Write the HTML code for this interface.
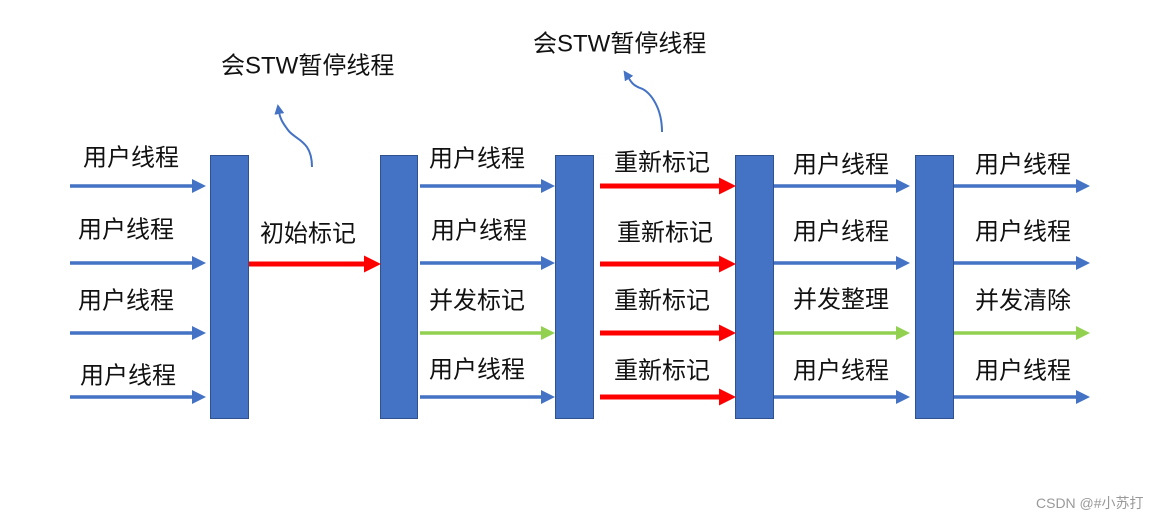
<!DOCTYPE html>
<html><head><meta charset="utf-8"><style>
html,body{margin:0;padding:0;background:#fff;width:1169px;height:521px;overflow:hidden}
text{font-family:"Liberation Sans","Noto Sans CJK SC",sans-serif;fill:#111}
</style></head><body>
<svg width="1169" height="521" viewBox="0 0 1169 521" xmlns="http://www.w3.org/2000/svg">
<defs>
<marker id="hb" markerWidth="4" markerHeight="4" refX="0" refY="2" orient="auto" markerUnits="strokeWidth"><path d="M0,0 L4,2 L0,4 z" fill="#4472c4"/></marker>
<marker id="hr" markerWidth="3.4" markerHeight="3.4" refX="0" refY="1.7" orient="auto" markerUnits="strokeWidth"><path d="M0,0 L3.4,1.7 L0,3.4 z" fill="#ff0000"/></marker>
<marker id="hg" markerWidth="4" markerHeight="4" refX="0" refY="2" orient="auto" markerUnits="strokeWidth"><path d="M0,0 L4,2 L0,4 z" fill="#92d050"/></marker>
<marker id="hc" markerWidth="5" markerHeight="5" refX="1" refY="2.5" orient="auto" markerUnits="strokeWidth"><path d="M0,0 L5,2.5 L0,5 z" fill="#4472c4"/></marker>
</defs>
<g fill="#4472c4" stroke="#2f528f" stroke-width="1">
<rect x="210.5" y="155.5" width="38" height="263"/>
<rect x="380.5" y="155.5" width="37" height="263"/>
<rect x="555.5" y="155.5" width="38" height="263"/>
<rect x="735.5" y="155.5" width="38" height="263"/>
<rect x="915.5" y="155.5" width="38" height="263"/>
</g>
<g stroke-width="3.5" fill="none">
<line x1="70" y1="186" x2="192" y2="186" stroke="#4472c4" marker-end="url(#hb)"/>
<line x1="70" y1="263" x2="192" y2="263" stroke="#4472c4" marker-end="url(#hb)"/>
<line x1="70" y1="333" x2="192" y2="333" stroke="#4472c4" marker-end="url(#hb)"/>
<line x1="70" y1="397" x2="192" y2="397" stroke="#4472c4" marker-end="url(#hb)"/>
<line x1="420" y1="186" x2="541" y2="186" stroke="#4472c4" marker-end="url(#hb)"/>
<line x1="420" y1="263" x2="541" y2="263" stroke="#4472c4" marker-end="url(#hb)"/>
<line x1="420" y1="333" x2="541" y2="333" stroke="#92d050" marker-end="url(#hg)"/>
<line x1="420" y1="397" x2="541" y2="397" stroke="#4472c4" marker-end="url(#hb)"/>
<line x1="774" y1="186" x2="896" y2="186" stroke="#4472c4" marker-end="url(#hb)"/>
<line x1="774" y1="263" x2="896" y2="263" stroke="#4472c4" marker-end="url(#hb)"/>
<line x1="774" y1="333" x2="896" y2="333" stroke="#92d050" marker-end="url(#hg)"/>
<line x1="774" y1="397" x2="896" y2="397" stroke="#4472c4" marker-end="url(#hb)"/>
<line x1="954" y1="186" x2="1076" y2="186" stroke="#4472c4" marker-end="url(#hb)"/>
<line x1="954" y1="263" x2="1076" y2="263" stroke="#4472c4" marker-end="url(#hb)"/>
<line x1="954" y1="333" x2="1076" y2="333" stroke="#92d050" marker-end="url(#hg)"/>
<line x1="954" y1="397" x2="1076" y2="397" stroke="#4472c4" marker-end="url(#hb)"/>
</g>
<g stroke="#ff0000" stroke-width="5" fill="none">
<line x1="249" y1="264" x2="364" y2="264" marker-end="url(#hr)"/>
<line x1="600" y1="186" x2="719" y2="186" marker-end="url(#hr)"/>
<line x1="600" y1="264" x2="719" y2="264" marker-end="url(#hr)"/>
<line x1="600" y1="333" x2="719" y2="333" marker-end="url(#hr)"/>
<line x1="600" y1="397" x2="719" y2="397" marker-end="url(#hr)"/>
</g>
<g stroke="#4472c4" stroke-width="2" fill="none">
<path d="M312,167 C312,140 295,140 288,130 C282,122 280,118 279,112" marker-end="url(#hc)"/>
<path d="M662,132 C662,105 648,90 640,88 C632,85 630,80 628,77" marker-end="url(#hc)"/>
</g>
<g font-size="24" dominant-baseline="middle">
<text x="221" y="67">会STW暂停线程</text>
<text x="533" y="45">会STW暂停线程</text>
<text x="83" y="159">用户线程</text>
<text x="78" y="231">用户线程</text>
<text x="78" y="302">用户线程</text>
<text x="80" y="377">用户线程</text>
<text x="260" y="235">初始标记</text>
<text x="429" y="160">用户线程</text>
<text x="431" y="232">用户线程</text>
<text x="429" y="302">并发标记</text>
<text x="429" y="371">用户线程</text>
<text x="614" y="164">重新标记</text>
<text x="617" y="234">重新标记</text>
<text x="614" y="302">重新标记</text>
<text x="614" y="372">重新标记</text>
<text x="793" y="166">用户线程</text>
<text x="793" y="233">用户线程</text>
<text x="793" y="301">并发整理</text>
<text x="793" y="372">用户线程</text>
<text x="975" y="166">用户线程</text>
<text x="975" y="233">用户线程</text>
<text x="975" y="302">并发清除</text>
<text x="975" y="372">用户线程</text>
</g>
<text x="1036" y="508" font-size="14" style="fill:#999">CSDN @#小苏打</text>
</svg>
</body></html>
